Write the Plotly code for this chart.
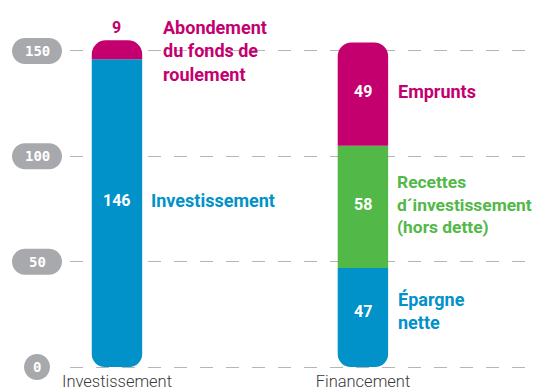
import plotly.graph_objects as go

categories = ["Investissement", "Financement"]

# bottom segment of each bar (blue)
bottom_values = [146, 47]
bottom_labels = ["Investissement", "Épargne<br>nette"]
# middle segment (green), only in Financement
middle_values = [0, 58]
middle_labels = ["", "Recettes<br>d´investissement<br>(hors dette)"]
# top segment (magenta)
top_values = [9, 49]
top_labels = ["Abondement<br>du fonds de<br>roulement", "Emprunts"]

y_ticks = [0, 50, 100, 150]

BLUE = "#0092c8"
GREEN = "#52b848"
MAGENTA = "#c4006f"
GREY = "#a8a9ac"
FONT = "Roboto"
Y_LO, Y_HI = -0.95, 169.4
BAR_W = 0.205

mid_base = bottom_values
top_base = [b + m for b, m in zip(bottom_values, middle_values)]

# plotly rounds every corner of a bar that has a base, so the rounded
# bottom and top pieces sit on hidden axes shifted to start where they start
offsets = sorted(set(bottom_values + top_base))
axis_of = {off: f"y{i + 2}" for i, off in enumerate(offsets)}

fig = go.Figure()
for i, cat in enumerate(categories):
    fig.add_trace(go.Bar(
        x=[cat], y=[-bottom_values[i]], yaxis=axis_of[bottom_values[i]],
        marker=dict(color=BLUE, cornerradius=13, line_width=0), width=BAR_W,
    ))
    if middle_values[i]:
        fig.add_trace(go.Bar(
            x=[cat], y=[middle_values[i]], base=[mid_base[i]],
            marker=dict(color=GREEN, cornerradius=0, line_width=0), width=BAR_W,
        ))
    fig.add_trace(go.Bar(
        x=[cat], y=[top_values[i]], yaxis=axis_of[top_base[i]],
        marker=dict(color=MAGENTA, cornerradius=14, line_width=0), width=BAR_W,
    ))

bold = dict(family=FONT, weight="bold")

# values written in the bars
fig.add_annotation(x=0, y=bottom_values[0] * 0.54, text=str(bottom_values[0]),
                   showarrow=False, font=dict(**bold, size=16, color="white"))
fig.add_annotation(x=0, y=top_base[0] + top_values[0] + 6, text=str(top_values[0]),
                   showarrow=False, font=dict(**bold, size=16, color=MAGENTA))
fig.add_annotation(x=1, y=bottom_values[1] * 0.56, text=str(bottom_values[1]),
                   showarrow=False, font=dict(**bold, size=16, color="white"))
fig.add_annotation(x=1, y=mid_base[1] + middle_values[1] / 2 + 1, text=str(middle_values[1]),
                   showarrow=False, font=dict(**bold, size=16, color="white"))
fig.add_annotation(x=1, y=top_base[1] + top_values[1] / 2 + 1, text=str(top_values[1]),
                   showarrow=False, font=dict(**bold, size=16, color="white"))

# labels right of the bars
fig.add_annotation(x=0, y=bottom_values[0] * 0.54, text=bottom_labels[0],
                   xshift=32, font=dict(**bold, size=18, color=BLUE))
fig.add_annotation(x=0, y=167.2, yanchor="top", text=top_labels[0],
                   xshift=44, font=dict(**bold, size=18, color=MAGENTA))
fig.add_annotation(x=1, y=bottom_values[1] * 0.52 + 2, text=bottom_labels[1],
                   xshift=33, font=dict(**bold, size=18, color=BLUE))
fig.add_annotation(x=1, y=mid_base[1] + middle_values[1] / 2 + 1, text=middle_labels[1],
                   xshift=32, font=dict(**bold, size=17.4, color=GREEN))
fig.add_annotation(x=1, y=top_base[1] + top_values[1] / 2 + 1, text=top_labels[1],
                   xshift=33, font=dict(**bold, size=18, color=MAGENTA))
for a in fig.layout.annotations[5:]:
    a.update(showarrow=False, xanchor="left", align="left")


def pill_path(w, h):
    r = h / 2
    k = 0.5523 * r
    a = w / 2 - r
    return (
        f"M {-a},{-r} L {a},{-r} C {a + k},{-r} {a + r},{-k} {a + r},0 "
        f"C {a + r},{k} {a + k},{r} {a},{r} L {-a},{r} "
        f"C {-a - k},{r} {-a - r},{k} {-a - r},0 "
        f"C {-a - r},{-k} {-a - k},{-r} {-a},{-r} Z"
    )


pill_x = -33 / 470
for t in y_ticks:
    py = (t - Y_LO) / (Y_HI - Y_LO)
    w = 26 if t < 10 else 50
    fig.add_shape(
        type="path", path=pill_path(w, 26), xref="paper", yref="paper",
        xsizemode="pixel", ysizemode="pixel", xanchor=pill_x, yanchor=py,
        fillcolor=GREY, line_width=0, layer="above",
    )
    fig.add_annotation(
        x=pill_x, y=py, xref="paper", yref="paper", text=str(t), showarrow=False,
        xanchor="center", yanchor="middle",
        font=dict(family="DejaVu Sans Mono", weight="bold", size=14, color="white"),
    )

hidden = {
    f"yaxis{name[1:]}": dict(overlaying="y", range=[Y_LO - off, Y_HI - off],
                             visible=False, showgrid=False, zeroline=False)
    for off, name in axis_of.items()
}

# the page body keeps an 8px margin, so the figure is 8px smaller
fig.update_layout(
    width=535,
    height=383,
    margin=dict(l=62, r=3, t=2, b=22),
    paper_bgcolor="white",
    plot_bgcolor="white",
    barmode="overlay",
    showlegend=False,
    xaxis=dict(
        range=[-0.191, 1.72],
        showgrid=False,
        zeroline=False,
        automargin=False,
        ticks="",
        ticklabelstandoff=0,
        tickfont=dict(family=FONT, weight=300, size=16.5, color="#3a3a3a"),
    ),
    yaxis=dict(
        range=[Y_LO, Y_HI],
        tickvals=y_ticks,
        showticklabels=False,
        automargin=False,
        showgrid=True,
        gridcolor="#b5b5b5",
        gridwidth=1.2,
        griddash="13px,13px",
        zeroline=False,
    ),
    **hidden,
)

fig.write_html("out.html")
